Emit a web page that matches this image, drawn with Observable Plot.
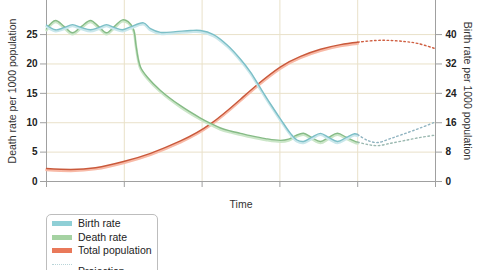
<!DOCTYPE html>
<html>
<head>
<meta charset="utf-8">
<script src="https://cdn.jsdelivr.net/npm/d3@7"></script>
<script src="https://cdn.jsdelivr.net/npm/@observablehq/plot@0.6"></script>
<style>
  html, body { margin: 0; padding: 0; background: #fff; }
  body { width: 480px; height: 270px; overflow: hidden; font-family: "Liberation Sans", Arial, sans-serif; }
  #legend { position: absolute; left: 46px; top: 214px; width: 112px; height: 80px;
    border: 1px solid #bdbdbd; border-radius: 5px; box-sizing: border-box; padding-top: 2px;
    font-size: 10.5px; color: #222; }
  .row { height: 13.5px; line-height: 13.5px; display: flex; align-items: center; }
  .sw { width: 20px; height: 5px; margin-left: 5px; margin-right: 6px; }
  .prow { height: 26px; display: flex; align-items: center; }
  .psw { width: 20px; margin-left: 5px; margin-right: 6px; }
  .psw div { height: 0; border-top: 1px dotted #aaa; margin: 5px 0; }
</style>
</head>
<body>
<div id="chart"></div>
<div id="legend"></div>
<script>
// x: time in grid units (0..5)
const xTicks = [0, 1, 2, 3, 4, 5];
const deathTicks = [0, 5, 10, 15, 20, 25];          // left axis (per 1000)
const birthTicks = [0, 8, 16, 24, 32, 40];          // right axis (per 1000)
const axisRatio = 40 / 25;                          // right-axis units per left-axis unit

// Death rate (left axis units)
const deathRate = [[0,26.0],[0.116,27.4],[0.225,26.4],[0.334,25.3],[0.45,26.4],[0.566,27.4],[0.668,26.4],
  [0.771,25.3],[0.874,26.4],[0.977,27.5],[1.05,27.2],[1.118,25.9],[1.15,23.2],[1.18,20.8],[1.21,19.4],
  [1.3,17.7],[1.465,15.5],[1.722,12.9],[1.979,10.8],[2.108,9.9],[2.237,9.1],[2.365,8.6],[2.494,8.2],
  [2.622,7.8],[2.815,7.3],[3.008,7.0],[3.111,7.2],[3.2,7.8],[3.303,8.2],[3.406,7.5],[3.522,6.8],
  [3.625,7.5],[3.74,8.2],[3.856,7.5],[3.972,6.8],[4.0,6.7]];
const deathProjection = [[4.0,6.7],[4.126,6.3],[4.254,6.1],[4.422,6.5],[4.614,7.0],[4.807,7.5],[5.0,7.9]];

// Birth rate (right axis units)
const birthRate = [[0,42.6],[0.116,41.3],[0.225,41.9],[0.334,42.7],[0.45,41.9],[0.566,41.3],[0.668,41.9],
  [0.771,42.7],[0.874,41.9],[0.977,41.3],[1.08,42.1],[1.247,43.2],[1.337,41.6],[1.465,40.6],[1.658,40.8],
  [1.851,41.1],[1.979,41.1],[2.147,40.0],[2.326,37.1],[2.494,33.3],[2.622,29.8],[2.751,25.4],[2.879,21.1],
  [3.008,17.0],[3.136,13.1],[3.22,11.3],[3.303,10.9],[3.406,12.0],[3.522,13.1],[3.625,12.0],[3.74,10.9],
  [3.856,12.0],[3.959,13.0],[4.0,12.8]];
const birthProjection = [[4.0,12.8],[4.126,11.2],[4.254,10.6],[4.422,11.7],[4.614,13.1],[4.807,14.6],[5.0,16.2]];

// Total population (relative, drawn on left scale)
const totalPopulation = [[0,2.2],[0.308,2.05],[0.63,2.35],[0.99,3.4],[1.337,4.8],[1.722,6.9],[2.108,9.8],
  [2.494,14.0],[2.712,16.5],[3.008,19.5],[3.265,21.3],[3.522,22.5],[3.779,23.3],[4.0,23.7]];
const populationProjection = [[4.0,23.7],[4.23,24.0],[4.42,24.0],[4.614,23.8],[4.77,23.5],[5.0,22.6]];

const colors = {
  birth: "#7cbfc7", birthLight: "#c9e7eb", birthSwatch: "#8fcfd6",
  death: "#86bb86", deathLight: "#cbe6c8", deathSwatch: "#a5d2a2",
  pop: "#c9593b", popLight: "#f8b9a6", popSwatch: "#e9795a"
};

const X = d => d[0];
const Yl = d => d[1];
const Yr = d => d[1] / axisRatio;

function series(data, y, main, light, curve) {
  return [
    Plot.line(data, {x: X, y, curve, stroke: light, strokeWidth: 2.6, dy: 1.4}),
    Plot.line(data, {x: X, y, curve, stroke: main, strokeWidth: 1.4})
  ];
}
function projection(data, y, color) {
  return Plot.line(data, {x: X, y, curve: "catmull-rom", stroke: color, strokeWidth: 1.4, strokeDasharray: "1.6,2.6"});
}

const grid = "#e9e1c9";
const axisColor = "#a0a0a0";

const chart = Plot.plot({
  width: 480, height: 212,
  marginLeft: 46, marginRight: 45, marginTop: 0, marginBottom: 31,
  style: {fontFamily: "Liberation Sans, Arial, sans-serif", background: "white"},
  x: {domain: [0, 5]},
  y: {domain: [0, 30.8]},
  marks: [
    Plot.gridX(xTicks.slice(1, -1), {stroke: grid, strokeOpacity: 1}),
    Plot.gridY(deathTicks.slice(1), {stroke: grid, strokeOpacity: 1}),
    Plot.ruleX([0, 5], {stroke: axisColor}),
    Plot.ruleY([0], {stroke: axisColor}),
    ...series(totalPopulation, Yl, colors.pop, colors.popLight, "natural"),
    ...series(deathRate, Yl, colors.death, colors.deathLight, "catmull-rom"),
    ...series(birthRate, Yr, colors.birth, colors.birthLight, "catmull-rom"),
    projection(populationProjection, Yl, "#cf5f42"),
    projection(birthProjection, Yr, "#8fb3c0"),
    projection(deathProjection, Yl, "#9ab8b0"),
    Plot.axisX(xTicks, {tickSize: 6, stroke: axisColor, tickFormat: () => "", label: null}),
    Plot.axisY(deathTicks, {anchor: "left", tickSize: 6, tickPadding: 3, stroke: axisColor, fill: "#222",
      fontWeight: "bold", fontSize: 10, label: null}),
    Plot.axisY(birthTicks.map(v => v / axisRatio), {anchor: "right", tickSize: 6, tickPadding: 4, stroke: axisColor,
      fill: "#222", fontWeight: "bold", fontSize: 10, label: null,
      tickFormat: d => String(Math.round(d * axisRatio))}),
    Plot.text(["Time"], {text: d => d, frameAnchor: "bottom", dy: 23, lineAnchor: "middle",
      fontSize: 10.5, fill: "#333"}),
    Plot.text(["Death rate per 1000 population"], {text: d => d, frameAnchor: "left", dx: -34, rotate: -90,
      textAnchor: "middle", lineAnchor: "middle", fontSize: 10.5, fill: "#333"}),
    Plot.text(["Birth rate per 1000 population"], {text: d => d, frameAnchor: "right", dx: 32, rotate: 90,
      textAnchor: "middle", lineAnchor: "middle", fontSize: 10.5, fill: "#333"})
  ]
});
document.getElementById("chart").append(chart);

// Legend
const legendItems = [
  {label: "Birth rate", color: colors.birthSwatch},
  {label: "Death rate", color: colors.deathSwatch},
  {label: "Total population", color: colors.popSwatch}
];
const legend = d3.select("#legend");
legendItems.forEach(it => {
  const r = legend.append("div").attr("class", "row");
  r.append("div").attr("class", "sw").style("background", it.color);
  r.append("span").text(it.label);
});
const pr = legend.append("div").attr("class", "prow");
const psw = pr.append("div").attr("class", "psw");
["#b8d4d8", "#c0d8bd", "#e8b8a8"].forEach(c => psw.append("div").style("border-top-color", c));
pr.append("span").text("Projection");
</script>
</body>
</html>
